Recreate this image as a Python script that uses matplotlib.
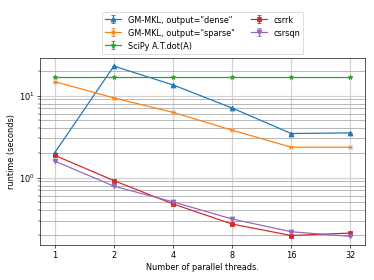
import numpy as np
import matplotlib
matplotlib.use("Agg")
import matplotlib.pyplot as plt
from matplotlib.ticker import ScalarFormatter, NullFormatter

threads = [1, 2, 4, 8, 16, 32]

# runtimes in seconds
gm_dense = [2.02, 22.9, 13.5, 7.06, 3.45, 3.51]
gm_sparse = [14.8, 9.37, 6.25, 3.79, 2.35, 2.35]
scipy_dot = [16.8, 16.8, 16.8, 16.8, 16.8, 16.8]
csrrk = [1.87, 0.92, 0.478, 0.272, 0.197, 0.211]
csrsqn = [1.59, 0.787, 0.506, 0.313, 0.219, 0.192]

labels = ['GM-MKL, output="dense"', 'GM-MKL, output="sparse"',
          'SciPy A.T.dot(A)', 'csrrk', 'csrsqn']
markers = ['^', 'x', '*', 's', 'v']
series = [gm_dense, gm_sparse, scipy_dot, csrrk, csrsqn]

DPI = 58.4375
fig = plt.figure(figsize=(6.4, 4.8), dpi=DPI)
ax = fig.add_axes([0.107, 0.125, 0.869, 0.668])

for vals, lab, m in zip(series, labels, markers):
    ax.errorbar(threads, vals, yerr=np.zeros(len(vals)), marker=m,
                capsize=3, label=lab)

ax.set_xscale('log', base=2)
ax.set_yscale('log')
ax.set_xticks(threads)
ax.xaxis.set_major_formatter(ScalarFormatter())
ax.xaxis.set_minor_formatter(NullFormatter())

ax.grid(which='major', color='lightgray', linewidth=1.5)
ax.grid(which='minor', axis='y', color='darkgray', linewidth=1)

ax.set_xlabel('Number of parallel threads.')
ax.set_ylabel('runtime (seconds)')

ax.legend(loc='lower center', bbox_to_anchor=(0.5, 1.0), ncol=2)

fig.savefig('out.png', dpi=DPI)
